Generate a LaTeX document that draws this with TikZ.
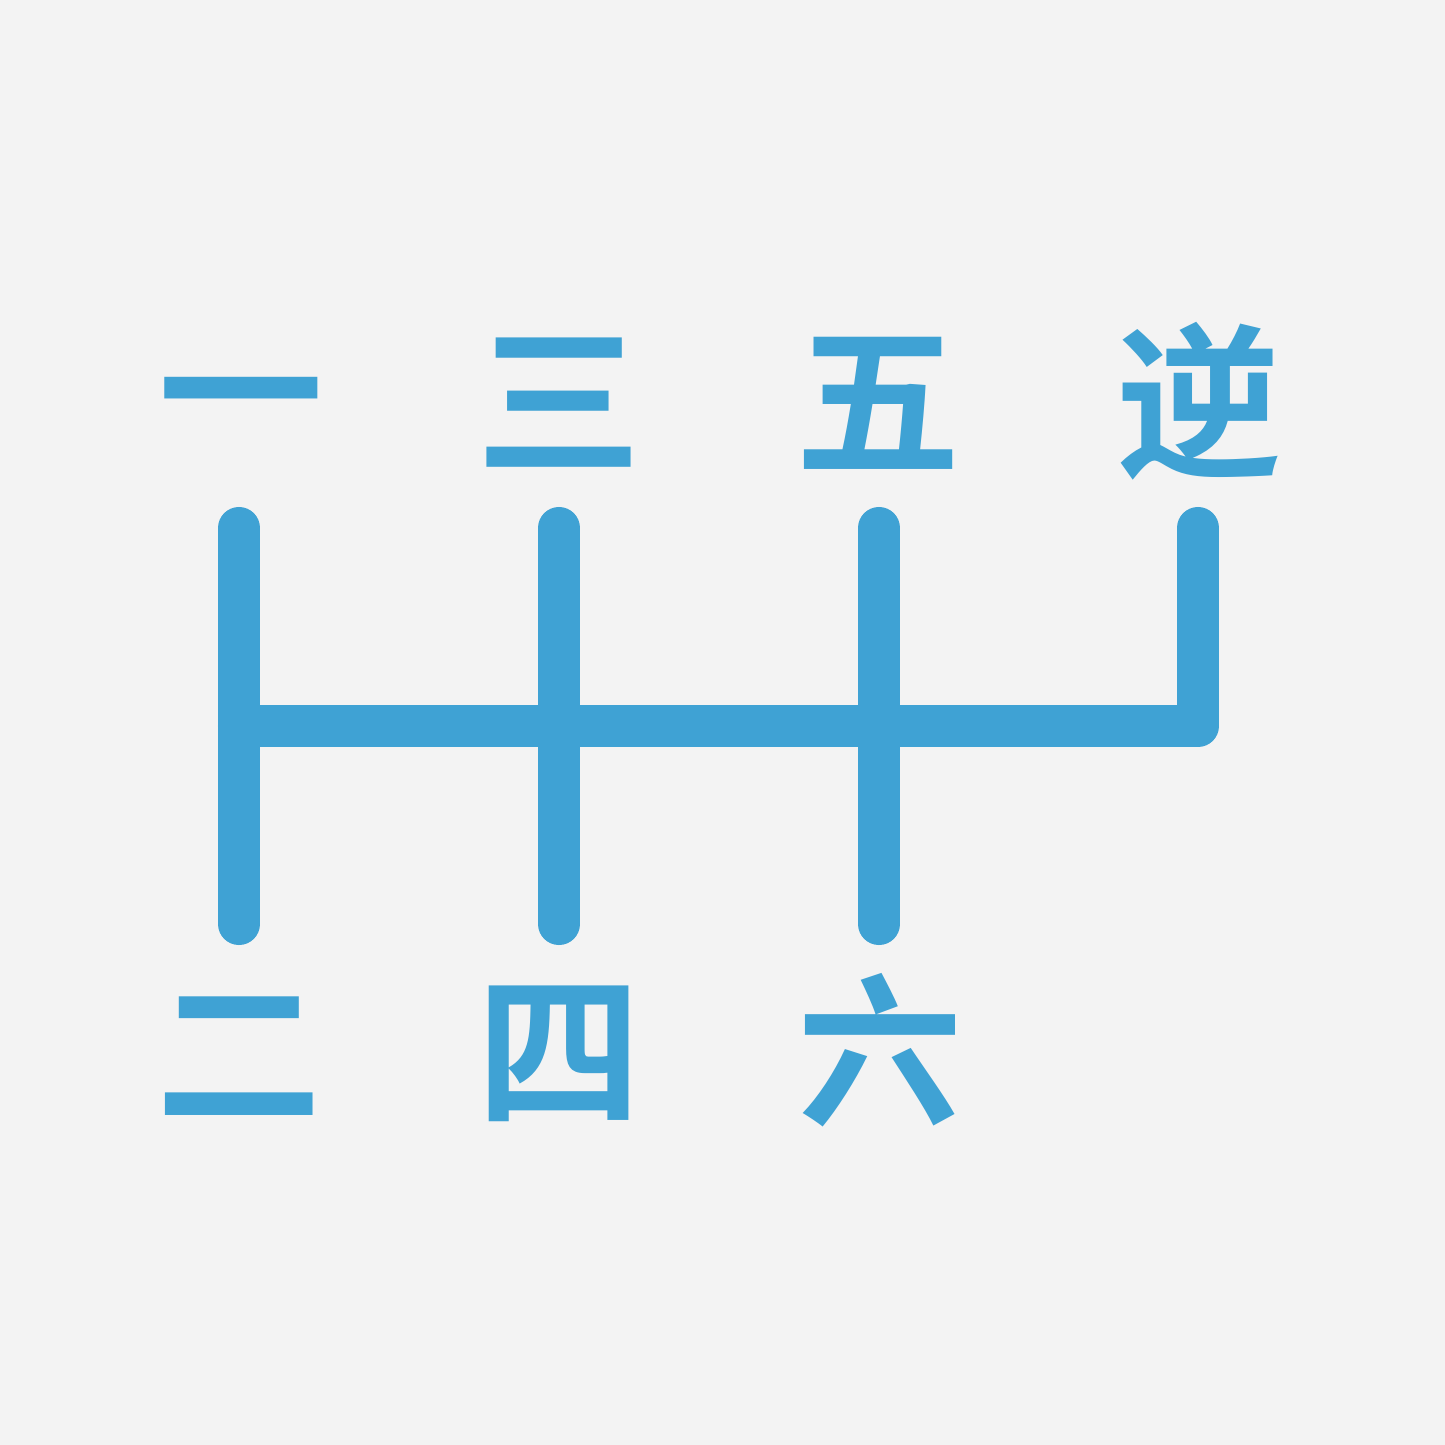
\documentclass[tikz,border=0pt]{standalone}
\usepackage{fontspec}
\newfontfamily\cjk{Noto Sans CJK SC Bold}
\definecolor{shiftblue}{HTML}{3FA2D4}
\definecolor{paper}{HTML}{F3F3F3}
\tikzset{
	gate/.style={draw=shiftblue, line width=0.42cm, line cap=round, line join=round},
	gear/.style={text=shiftblue, inner sep=0pt, font=\cjk\fontsize{47}{47}\selectfont}
}
\begin{document}
\begin{tikzpicture}[x=0.01cm, y=-0.01cm]
	\fill[paper] (0,0) rectangle (1445,1445);
	% gate ends
	\coordinate (top1) at (239,528);
	\coordinate (top3) at (559,528);
	\coordinate (top5) at (879,528);
	\coordinate (topR) at (1198,528);
	\coordinate (bot2) at (239,924);
	\coordinate (bot4) at (559,924);
	\coordinate (bot6) at (879,924);
	\coordinate (midL) at (239,726);
	\coordinate (midR) at (1198,726);
	% gates
	\draw[gate] (top1) -- (bot2);
	\draw[gate] (top3) -- (bot4);
	\draw[gate] (top5) -- (bot6);
	\draw[gate] (midL) -- (midR) -- (topR);
	% labels
	\node[gear] (g1) at (241,415) {一};
	\node[gear] (g3) at (559,403) {三};
	\node[gear] (g5) at (878,403) {五};
	\node[gear] (gR) at (1199,401) {逆};
	\node[gear] (g2) at (239,1056) {二};
	\node[gear] (g4) at (559,1054) {四};
	\node[gear] (g6) at (880,1050) {六};
\end{tikzpicture}
\end{document}
